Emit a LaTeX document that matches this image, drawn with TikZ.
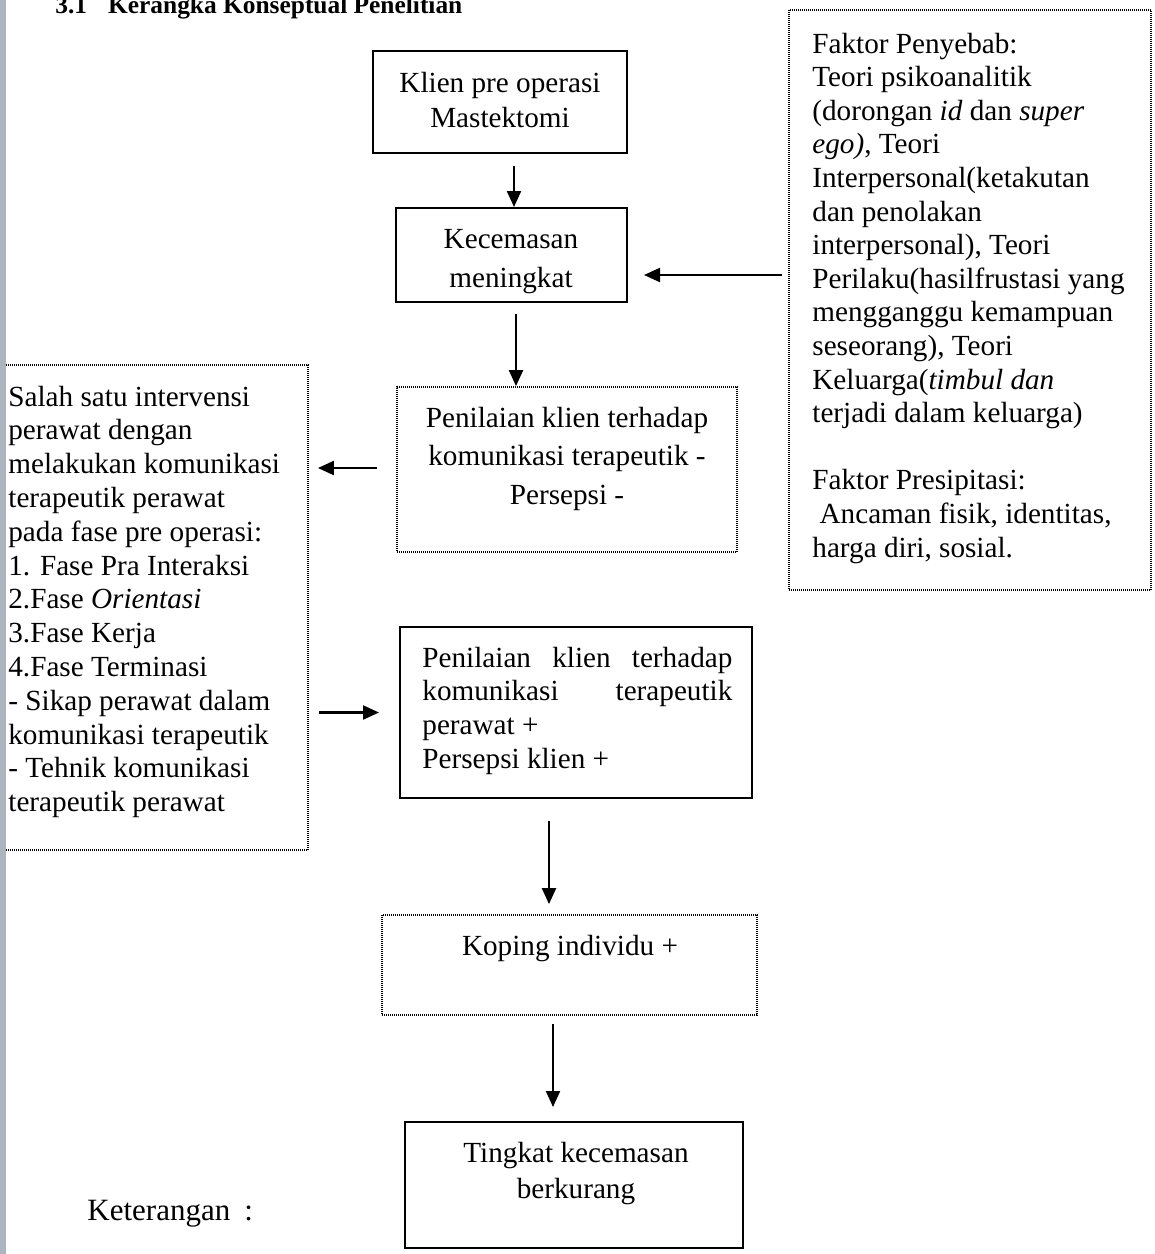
\documentclass[tikz,border=0pt]{standalone}
\usepackage{fontspec}
\setmainfont{Liberation Serif}
\usetikzlibrary{arrows.meta,fit,calc}
\definecolor{stripgray}{RGB}{172,180,190}
\newcommand\blkc[3]{\parbox[t]{#2}{\fontsize{14.6pt}{#1}\selectfont\centering #3}}
\newcommand\blkl[3]{\parbox[t]{#2}{\fontsize{14.6pt}{#1}\selectfont\raggedright #3}}
\begin{document}
\begin{tikzpicture}[x=0.5pt,y=-0.5pt,
  solidbox/.style={draw, line width=1pt, inner sep=0pt},
  dotbox/.style={draw, line width=0.9pt, dash pattern=on 0.5pt off 0.5pt, inner sep=0pt},
  arr/.style={line width=1.1pt, -{Triangle[length=8pt,width=7pt]}},
  txt/.style={inner sep=0pt}]
\useasboundingbox (0,0) rectangle (1155,1254);

% boxes
\node[solidbox, fit={(373,51) (627,153)}] (A) {};
\node[solidbox, fit={(396,208) (627,302)}] (B) {};
\node[dotbox, fit={(397,387) (737,552)}] (C) {};
\node[solidbox, fit={(400,627) (752,798)}] (D) {};
\node[dotbox, fit={(382,915) (757,1015)}] (E) {};
\node[solidbox, fit={(405,1122) (743,1248)}] (F) {};
\node[dotbox, fit={(-10,365) (308,850)}] (L) {};
\node[dotbox, fit={(789,10) (1151,590)}] (R) {};

% title (cut by the page edge)
\node[txt, anchor=base west] (title) at (55,13)
  {\fontsize{12.7pt}{15pt}\selectfont\bfseries 3.1\hspace{10.5pt}Kerangka Konseptual Penelitian};

% texts
\node[txt, anchor=base] (tA) at (500,92) {\blkc{17.5pt}{130pt}{Klien pre operasi\\Mastektomi}};
\node[txt, anchor=base] (tB) at (511,248) {\blkc{19.5pt}{110pt}{Kecemasan\\meningkat}};
\node[txt, anchor=base] (tC) at (567,427) {\blkc{19.3pt}{165pt}{Penilaian klien terhadap\\komunikasi terapeutik -\\Persepsi -}};
\node[txt, anchor=base west] (tD) at (422,667) {\blkl{16.85pt}{160pt}{\makebox[155pt][s]{Penilaian klien terhadap}\\\makebox[155pt][s]{komunikasi terapeutik}\\perawat +\\Persepsi klien +}};
\node[txt, anchor=base] (tE) at (570,955) {\blkc{17pt}{150pt}{Koping individu +}};
\node[txt, anchor=base] (tF) at (576,1162) {\blkc{18pt}{150pt}{Tingkat kecemasan\\berkurang}};
\node[txt, anchor=base west] (tL) at (8,406) {\blkl{16.9pt}{160pt}{Salah satu intervensi\\perawat dengan\\melakukan komunikasi\\terapeutik perawat\\pada fase pre operasi:\\1. Fase Pra Interaksi\\2.Fase \textit{Orientasi}\\3.Fase Kerja\\4.Fase Terminasi\\- Sikap perawat dalam\\komunikasi terapeutik\\- Tehnik komunikasi\\terapeutik perawat}};
\node[txt, anchor=base west] (tR) at (812,53) {\blkl{16.8pt}{185pt}{Faktor Penyebab:\\Teori psikoanalitik\\(dorongan \textit{id} dan \textit{super}\\\textit{ego)}, Teori\\Interpersonal(ketakutan\\dan penolakan\\interpersonal), Teori\\Perilaku(hasilfrustasi yang\\mengganggu kemampuan\\seseorang), Teori\\Keluarga(\textit{timbul dan}\\terjadi dalam keluarga)\\[16.8pt]Faktor Presipitasi:\\\hspace*{3.6pt}Ancaman fisik, identitas,\\harga diri, sosial.}};
\node[txt, anchor=base west] (ket) at (87,1220) {\fontsize{15.5pt}{18pt}\selectfont Keterangan\hspace{7pt}:};

% connectors
\coordinate (a1) at ($(A.south)+(14,12)$);
\draw[arr] (a1) -- (a1 |- B.north);
\coordinate (b1) at ($(B.south)+(4.5,11)$);
\draw[arr] (b1) -- (b1 |- C.north);
\coordinate (r1) at ($(R.west |- B.east)+(-6,20)$);
\draw[arr] (r1) -- ($(B.east |- r1)+(16,0)$);
\coordinate (c1) at ($(C.west)+(-19,-1.5)$);
\draw[arr] (c1) -- ($(L.east |- c1)+(9,0)$);
\coordinate (l1) at ($(L.east |- D.west)+(10,0)$);
\draw[arr] (l1) -- ($(D.west)+(-20,0)$);
\coordinate (d1) at ($(D.south)+(-27,22)$);
\draw[arr] (d1) -- ($(d1 |- E.north)+(0,-10)$);
\coordinate (e1) at ($(E.south)+(-16.5,8)$);
\draw[arr] (e1) -- ($(e1 |- F.north)+(0,-14)$);

% scan strip at the left edge
\fill[stripgray] (0,0) rectangle (6,1254);
\end{tikzpicture}
\end{document}
